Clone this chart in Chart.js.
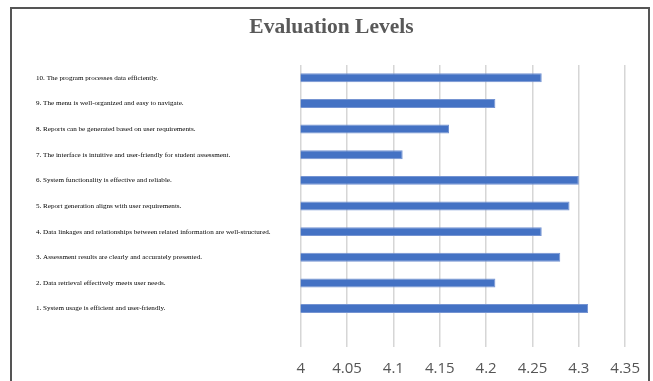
<!DOCTYPE html>
<html>
<head>
<meta charset="utf-8">
<script src="https://cdn.jsdelivr.net/npm/chart.js@4"></script>
<style>
  html, body { margin: 0; padding: 0; background: #fff; }
  #wrap { position: relative; width: 653px; height: 381px; }
  canvas { display: block; }
  /* thin dark frame around the chart, open at the bottom */
  #frame {
    position: absolute; left: 10px; top: 7px; width: 640px; height: 380px;
    border: 2px solid #555; border-bottom: none; box-sizing: border-box;
    pointer-events: none;
  }
</style>
</head>
<body>
<div id="wrap">
  <canvas id="c" width="653" height="381"></canvas>
  <div id="frame"></div>
</div>
<script>
// Evaluation statements, numbered 1..10
const statements = [
  '1. System usage is efficient and user-friendly.',
  '2. Data retrieval effectively meets user needs.',
  '3. Assessment results are clearly and accurately presented.',
  '4. Data linkages and relationships between related information are well-structured.',
  '5. Report generation aligns with user requirements.',
  '6. System functionality is effective and reliable.',
  '7. The interface is intuitive and user-friendly for student assessment.',
  '8. Reports can be generated based on user requirements.',
  '9. The menu is well-organized and easy to navigate.',
  '10. The program processes data efficiently.'
];

// Mean evaluation score for each statement (same order)
const meanScores = [4.31, 4.21, 4.28, 4.26, 4.29, 4.30, 4.11, 4.16, 4.21, 4.26];

// Value axis tick labels
const xTickLabels = ['4', '4.05', '4.1', '4.15', '4.2', '4.25', '4.3', '4.35'];

// Statement 10 sits at the top; one empty slot is kept below statement 1
const rowLabels = statements.slice().reverse().concat(['']);
const rowValues = meanScores.slice().reverse();

new Chart(document.getElementById('c'), {
  type: 'bar',
  data: {
    labels: rowLabels,
    datasets: [{
      data: rowValues,
      backgroundColor: '#4472c4',
      borderColor: '#7594d2',
      borderWidth: 1,
      borderSkipped: false,
      barPercentage: 0.35,
      categoryPercentage: 1
    }]
  },
  options: {
    indexAxis: 'y',
    responsive: false,
    animation: false,
    layout: { padding: { left: 36, right: 26, top: 0, bottom: 0 } },
    plugins: {
      legend: { display: false },
      tooltip: { enabled: false },
      title: {
        display: true,
        text: 'Evaluation Levels',
        color: '#595959',
        font: { family: 'Liberation Serif', size: 21.5, weight: 'bold' },
        padding: { top: 15, bottom: 24.2 }
      }
    },
    scales: {
      x: {
        type: 'linear',
        position: 'bottom',
        min: 4,
        max: 4.35,
        grid: { color: '#d6d6d6', lineWidth: 1.5, drawTicks: false },
        border: { display: false },
        ticks: {
          stepSize: 0.05,
          padding: 13,
          color: '#555',
          font: { family: 'Open Sans', size: 15 },
          callback: (v, i) => xTickLabels[i]
        },
        afterFit: (s) => { s.height = 34; }
      },
      y: {
        type: 'category',
        offset: true,
        grid: { display: false },
        border: { display: false },
        ticks: {
          crossAlign: 'far',
          autoSkip: false,
          padding: 0,
          color: '#000',
          font: { family: 'Liberation Serif', size: 7.1 }
        },
        afterFit: (s) => { s.width = 264.7; }
      }
    }
  }
});
</script>
</body>
</html>
